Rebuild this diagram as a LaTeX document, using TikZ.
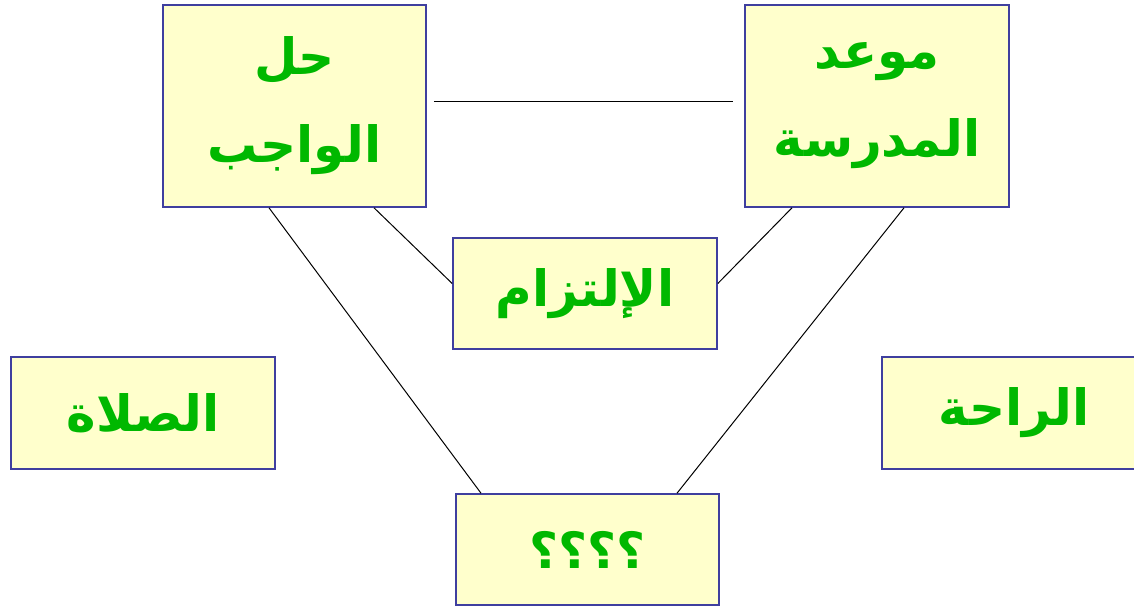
\documentclass[tikz,border=0pt]{standalone}
\usepackage{fontspec}
\TeXXeTstate=1
\newfontfamily\arabicfont[Script=Arabic]{DejaVu Sans}
\definecolor{boxfill}{HTML}{FFFFCC}
\definecolor{boxline}{HTML}{3F3F9F}
\definecolor{wordgreen}{HTML}{00B800}
\begin{document}
\begin{tikzpicture}[x=1pt,y=-1pt,
  wordbox/.style={draw=boxline, fill=boxfill, line width=1.6pt, inner sep=0pt,
    text=wordgreen, align=center,
    font=\arabicfont\bfseries\fontsize{50}{88}\selectfont},
  link/.style={draw=black, line width=1pt}]
\useasboundingbox (0,0) rectangle (1134,605);

% concept boxes
\node[wordbox, minimum width=263pt, minimum height=202pt] (wajib) at (294.5,106)
  {\beginR حل\endR\\\beginR الواجب\endR};
\node[wordbox, minimum width=264pt, minimum height=202pt] (madrasa) at (877,106)
  {\beginR موعد\endR\\\beginR المدرسة\endR};
\node[wordbox, minimum width=264pt, minimum height=111pt] (iltizam) at (585,293.5)
  {\beginR الإلتزام\endR};
\node[wordbox, minimum width=264pt, minimum height=112pt] (salat) at (143,413)
  {\beginR الصلاة\endR};
\node[wordbox, minimum width=264pt, minimum height=112pt] (raha) at (1014,413)
  {\beginR الراحة\endR};
\node[wordbox, minimum width=263pt, minimum height=111pt] (query) at (587.5,549.5)
  {\beginR ؟؟؟؟\endR};

% connectors
\draw[link] ([shift={(7,-5)}]wajib.east) -- ([shift={(-11,-5)}]madrasa.west);
\draw[link] ([xshift=79.5pt]wajib.south) -- ([yshift=10pt]iltizam.west);
\draw[link] ([xshift=-85pt]madrasa.south) -- ([yshift=10pt]iltizam.east);
\draw[link] ([xshift=-25.5pt]wajib.south) -- ([xshift=-106.5pt]query.north);
\draw[link] ([xshift=27pt]madrasa.south) -- ([xshift=89.5pt]query.north);
\end{tikzpicture}
\end{document}
